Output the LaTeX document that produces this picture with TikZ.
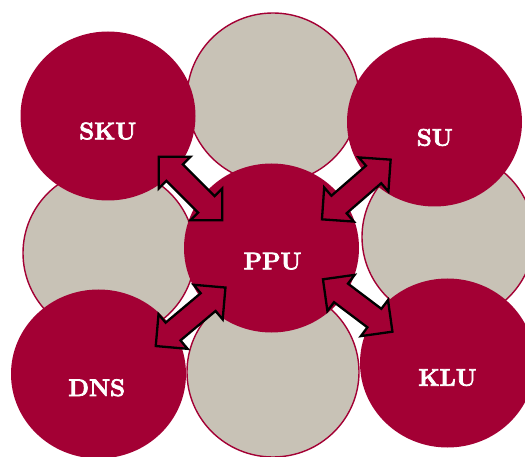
\documentclass[tikz,border=0pt]{standalone}
\usepackage{fontspec}
\newfontfamily\labfont[FakeBold=3]{Latin Modern Roman}
\usetikzlibrary{shapes.geometric}
\definecolor{uniRed}{RGB}{163,0,52}
\definecolor{uniGray}{RGB}{200,194,182}
% double block arrow centred at (#1,#2), rotated by #3, half length #4
\newcommand\blockarrow[4]{%
  \begin{scope}[shift={(#1,#2)},rotate=#3]
    \draw[arrowline]
      (#4,0) -- ({#4-22.6},22.6) -- ({#4-22.6},11.6) -- ({-#4+22.6},11.6)
      -- ({-#4+22.6},22.6) -- (-#4,0) -- ({-#4+22.6},-22.6)
      -- ({-#4+22.6},-11.6) -- ({#4-22.6},-11.6) -- ({#4-22.6},-22.6) -- cycle;
  \end{scope}}
\begin{document}
\begin{tikzpicture}[x=1pt,y=-1pt,
  graycirc/.style={ellipse,fill=uniGray,draw=uniRed,line width=1.4pt,
    minimum width=172pt,minimum height=170pt,inner sep=0pt,outer sep=0pt},
  redcirc/.style={ellipse,fill=uniRed,
    minimum width=175pt,minimum height=169pt,inner sep=0pt,outer sep=0pt},
  lab/.style={anchor=base,inner sep=0pt,text=white,
    font=\labfont\fontsize{24}{28}\selectfont\bfseries},
  arrowline/.style={draw=black,fill=uniRed,line width=2.3pt,miter limit=10}]
\useasboundingbox (0,0) rectangle (525,457);
% gray circles
\node[graycirc] (gtop) at (273,98) {};
\node[graycirc] (gleft) at (109,253) {};
\node[graycirc] (gright) at (448,237) {};
\node[graycirc] (gbot) at (273,372) {};
% red circles
\node[redcirc] (sku) at (108,116) {};
\node[redcirc] (su) at (434.5,122) {};
\node[redcirc] (ppu) at (271.5,248) {};
\node[redcirc] (dns) at (98.5,374) {};
\node[redcirc] (klu) at (447.5,363) {};
% labels
\node[lab] (tsku) at (107.7,139.3) {SKU};
\node[lab] (tsu) at (434.7,145.7) {SU};
\node[lab] (tppu) at (272.5,269.3) {PPU};
\node[lab] (tdns) at (96.7,396) {DNS};
\node[lab] (tklu) at (447.5,385.7) {KLU};
% arrows
\blockarrow{190.5}{188.5}{-45}{45}
\blockarrow{356.3}{189.5}{41}{45.5}
\blockarrow{190.6}{316.8}{40}{45.5}
\blockarrow{357.7}{305.5}{-37}{43.5}
\end{tikzpicture}
\end{document}
